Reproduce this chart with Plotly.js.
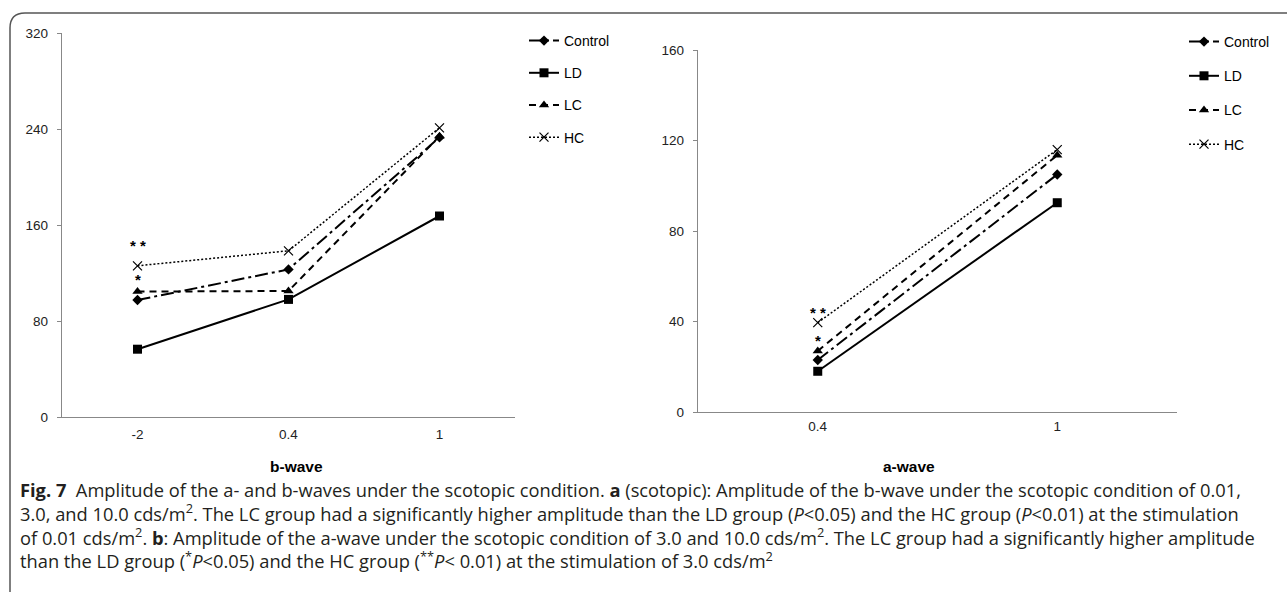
<!DOCTYPE html>
<html>
<head>
<meta charset="utf-8">
<script src="https://cdn.plot.ly/plotly-3.0.1.min.js"></script>
<style>html,body{margin:0;padding:0;background:#fff;}#chart{width:1287px;height:592px;}</style>
</head>
<body>
<div id="chart"></div>
<script>
// ---- data ----
const groups = ["Control", "LD", "LC", "HC"];
const bwaveX = ["-2", "0.4", "1"];
const bwaveControl = [97.5, 123, 233];
const bwaveLD = [56.5, 98, 167.5];
const bwaveLC = [104.5, 105, 234];
const bwaveHC = [126, 138.5, 241];
const awaveX = ["0.4", "1"];
const awaveControl = [23, 105];
const awaveLD = [18, 92.5];
const awaveLC = [27, 113.5];
const awaveHC = [39.5, 116];
const bwaveTicks = [0, 80, 160, 240, 320];
const awaveTicks = [0, 40, 80, 120, 160];

const W = 1287, H = 592;
const px = v => v / W;
const py = v => (H - v) / H;

const styles = {
  Control: {dash: "13px,4px,3px,4px", symbol: "diamond", size: 8},
  LD: {dash: "solid", symbol: "square", size: 9},
  LC: {dash: "7px,5px", symbol: "triangle-up", size: 9},
  HC: {dash: "2px,2px", symbol: "x-thin", size: 9}
};
const bwaveVals = {Control: bwaveControl, LD: bwaveLD, LC: bwaveLC, HC: bwaveHC};
const awaveVals = {Control: awaveControl, LD: awaveLD, LC: awaveLC, HC: awaveHC};

function mk(name, x, y, xa, ya, leg) {
  const s = styles[name];
  return {
    type: "scatter", mode: "lines+markers", name: name, x: x, y: y,
    xaxis: xa, yaxis: ya, legend: leg, legendgroup: leg + name,
    line: {color: "#000", width: name === "HC" ? 1.5 : 2, dash: s.dash},
    marker: {symbol: s.symbol, size: s.size, color: "#000",
             line: {color: "#000", width: name === "HC" ? 1.2 : 0}}
  };
}
const data = [];
groups.forEach(g => data.push(mk(g, bwaveX, bwaveVals[g], "x", "y", "legend")));
groups.forEach(g => data.push(mk(g, awaveX, awaveVals[g], "x2", "y2", "legend2")));

const tickFont = {family: "Liberation Sans, Arial, sans-serif", size: 13.5, color: "#222"};
const xTickFont = {family: "Liberation Sans, Arial, sans-serif", size: 13.5, color: "#222"};
const axisCommon = {showgrid: false, zeroline: false, showline: true, linecolor: "#888",
  linewidth: 1.2, fixedrange: true};

const capFont = {family: "Open Sans, Noto Sans, sans-serif", size: 18.3, color: "#231f20"};
const captionText = [
  "<b>Fig. 7</b>  Amplitude of the a- and b-waves under the scotopic condition. <b>a</b> (scotopic): Amplitude of the b-wave under the scotopic condition of 0.01,",
  "3.0, and 10.0 cds/m<sup>2</sup>. The LC group had a significantly higher amplitude than the LD group (<i>P</i>&lt;0.05) and the HC group (<i>P</i>&lt;0.01) at the stimulation",
  "of 0.01 cds/m<sup>2</sup>. <b>b</b>: Amplitude of the a-wave under the scotopic condition of 3.0 and 10.0 cds/m<sup>2</sup>. The LC group had a significantly higher amplitude",
  "than the LD group (<sup>*</sup><i>P</i>&lt;0.05) and the HC group (<sup>**</sup><i>P</i>&lt; 0.01) at the stimulation of 3.0 cds/m<sup>2</sup>"
].join("<br>");

const annotations = [];
annotations.push({
  xref: "paper", yref: "paper", x: px(18), y: py(475), xanchor: "left", yanchor: "top",
  text: captionText, showarrow: false, font: capFont, align: "left"
});
const titleFont = {family: "Liberation Sans, Arial, sans-serif", size: 15.5, color: "#000"};
annotations.push({xref: "paper", yref: "paper", x: px(268), y: py(466), yanchor: "middle", text: "<b>b-wave</b>",
  showarrow: false, font: titleFont});
annotations.push({xref: "paper", yref: "paper", x: px(937), y: py(466), yanchor: "middle", text: "<b>a-wave</b>",
  showarrow: false, font: titleFont});
const starFont = {family: "Liberation Sans, Arial, sans-serif", size: 15, color: "#000"};
const bIdx = bwaveX.indexOf("-2"), aIdx = awaveX.indexOf("0.4");
annotations.push({xref: "x", yref: "y", x: bIdx, y: bwaveHC[bIdx], text: "<b>* *</b>", showarrow: false, yshift: 20, font: starFont});
annotations.push({xref: "x", yref: "y", x: bIdx, y: bwaveLC[bIdx], text: "<b>*</b>", showarrow: false, yshift: 12, font: starFont});
annotations.push({xref: "x2", yref: "y2", x: aIdx, y: awaveHC[aIdx], text: "<b>* *</b>", showarrow: false, yshift: 10, font: starFont});
annotations.push({xref: "x2", yref: "y2", x: aIdx, y: awaveLC[aIdx], text: "<b>*</b>", showarrow: false, yshift: 10, font: starFont});

const legFont = {family: "Liberation Sans, Arial, sans-serif", size: 14, color: "#000"};
const layout = {
  width: W, height: H, margin: {l: 0, r: 0, t: 0, b: 0},
  paper_bgcolor: "#fff", plot_bgcolor: "#fff", showlegend: true,
  xaxis: Object.assign({}, axisCommon, {domain: [px(62), px(515)], type: "category",
    range: [-0.5, 2.5], ticks: "", anchor: "y", tickfont: xTickFont, ticklabelstandoff: 5}),
  yaxis: Object.assign({}, axisCommon, {domain: [py(417), py(33)], range: [0, 320],
    tickvals: bwaveTicks, ticks: "outside", ticklen: 4, tickcolor: "#888", anchor: "x",
    tickfont: tickFont, ticklabelstandoff: 6}),
  xaxis2: Object.assign({}, axisCommon, {domain: [px(698), px(1177)], type: "category",
    range: [-0.5, 1.5], ticks: "", anchor: "y2", tickfont: xTickFont, ticklabelstandoff: 2}),
  yaxis2: Object.assign({}, axisCommon, {domain: [py(412), py(50)], range: [0, 160],
    tickvals: awaveTicks, ticks: "outside", ticklen: 4, tickcolor: "#888", anchor: "x2",
    tickfont: tickFont, ticklabelstandoff: 6}),
  legend: {x: px(524), y: py(25), xanchor: "left", yanchor: "top", font: legFont,
    traceorder: "grouped", tracegroupgap: 11, bgcolor: "rgba(0,0,0,0)", itemwidth: 30},
  legend2: {x: px(1184), y: py(26), xanchor: "left", yanchor: "top", font: legFont,
    traceorder: "grouped", tracegroupgap: 13, bgcolor: "rgba(0,0,0,0)", itemwidth: 30},
  annotations: annotations,
  shapes: [{type: "path", xref: "paper", yref: "paper",
    path: `M ${px(10)},0 L ${px(10)},${py(28)} Q ${px(10)},${py(13)} ${px(25)},${py(13)} L 1,${py(13)}`,
    line: {color: "#555", width: 1.5}}]
};
Plotly.newPlot("chart", data, layout, {displayModeBar: false, staticPlot: true});
</script>
</body>
</html>
